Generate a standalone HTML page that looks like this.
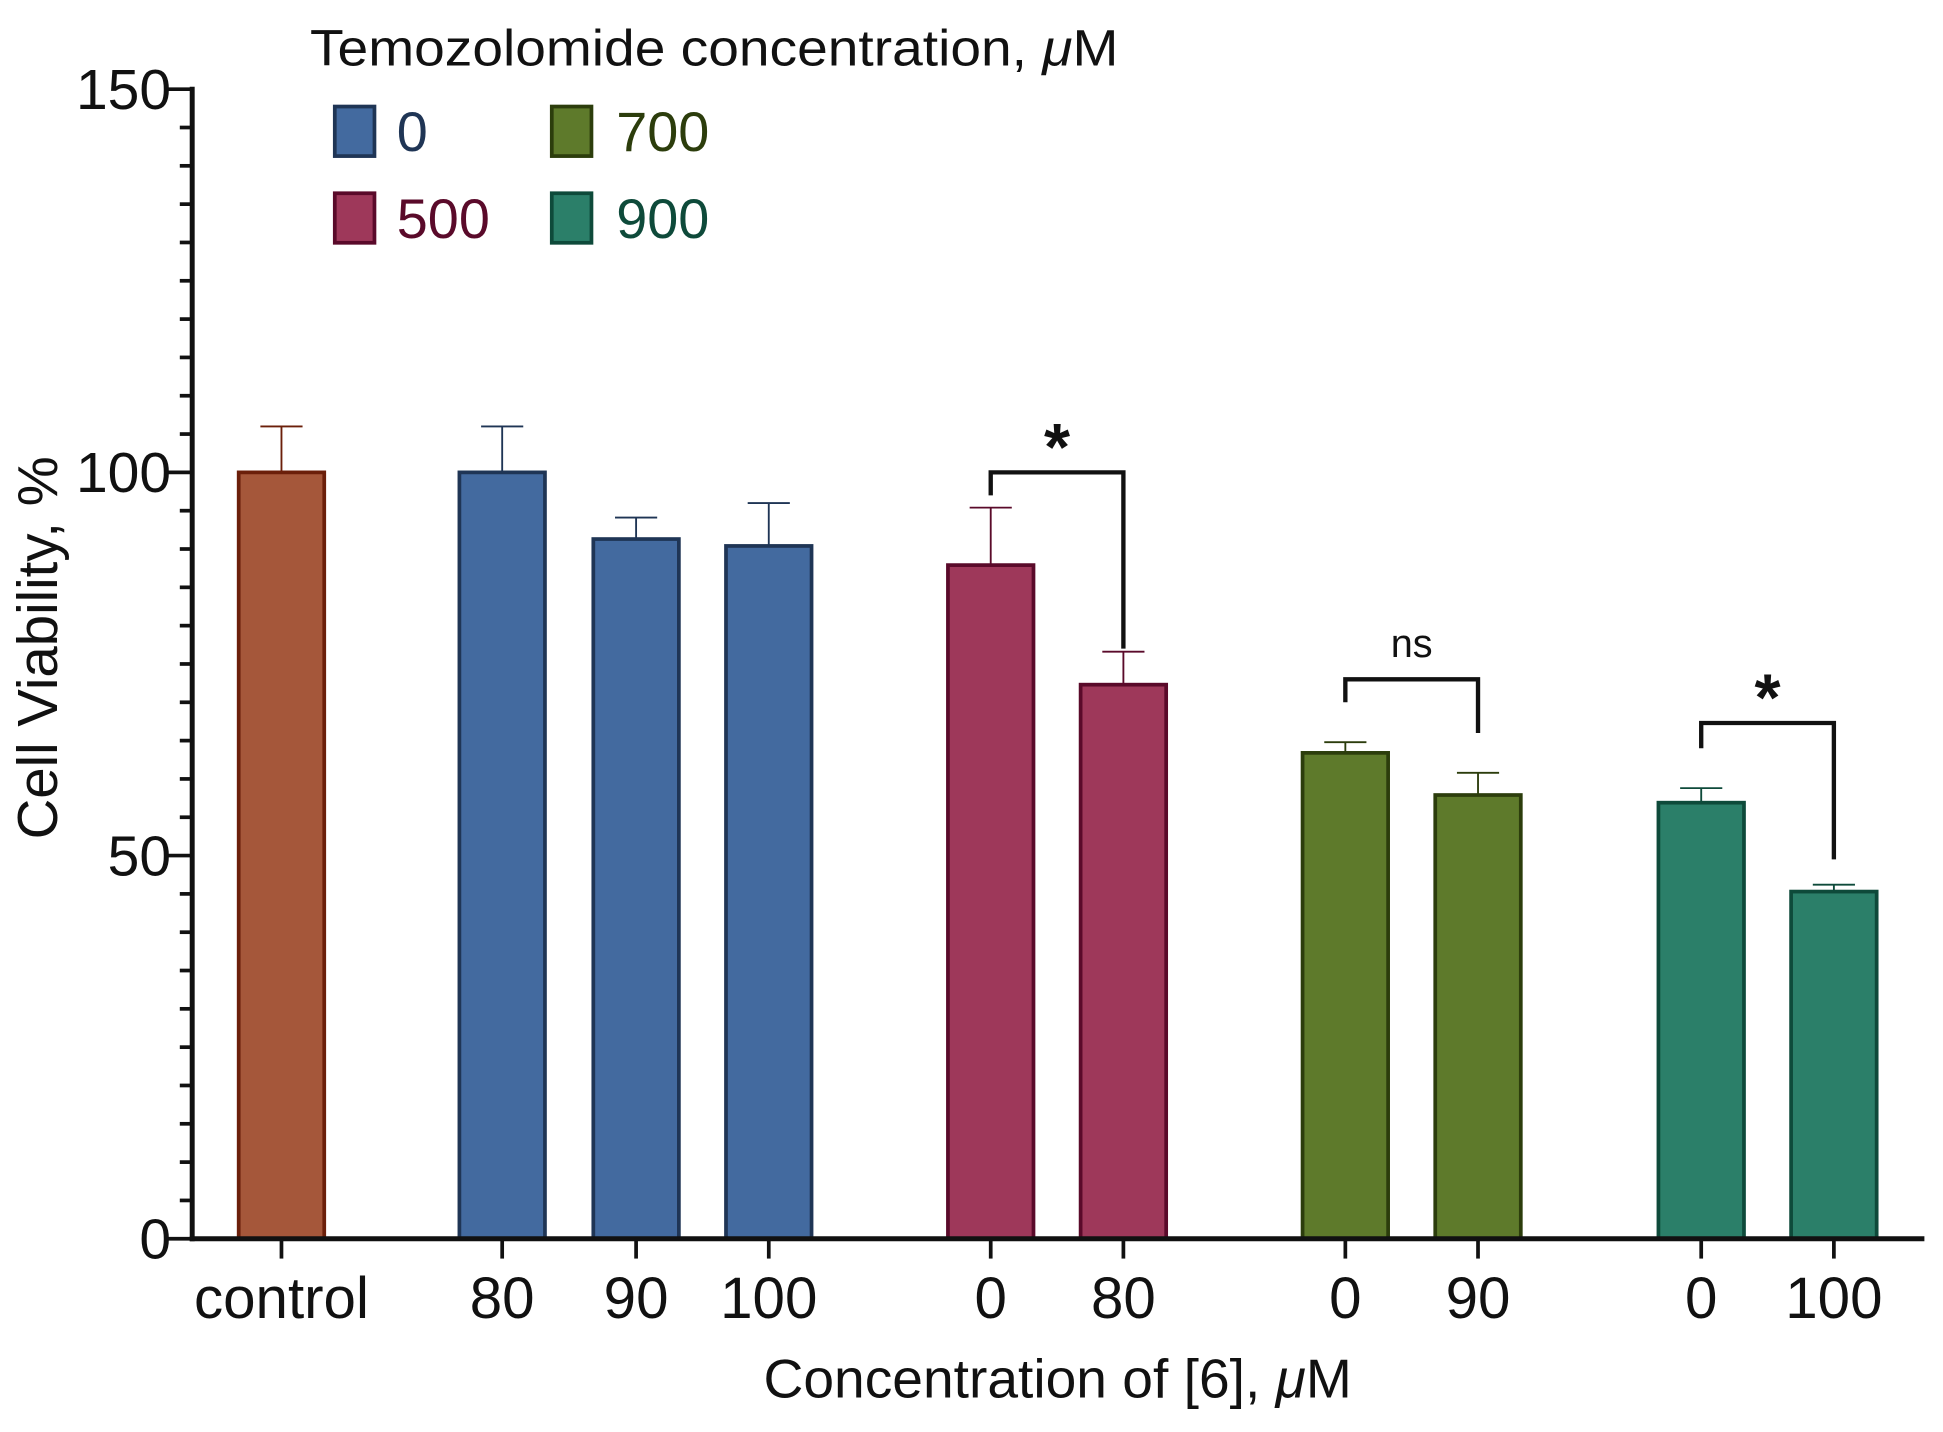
<!DOCTYPE html>
<html><head><meta charset="utf-8"><style>
html,body{margin:0;padding:0;background:#fff;}
svg{display:block;font-family:"Liberation Sans",Arial,sans-serif;}
</style></head><body>
<svg id="chart" width="1943" height="1432" viewBox="0 0 1567 1156" preserveAspectRatio="none" xmlns="http://www.w3.org/2000/svg">
<g id="legend">
<text x="250" y="53" font-size="41" fill="#111" textLength="652" lengthAdjust="spacingAndGlyphs">Temozolomide concentration, <tspan font-style="italic">μ</tspan>M</text>
<rect x="270" y="86" width="32" height="40" fill="#436a9f" stroke="#1f3555" stroke-width="3"/>
<text x="320" y="122" font-size="45" fill="#1f3555">0</text>
<rect x="445" y="86" width="32" height="40" fill="#5e7a2b" stroke="#2c3d0c" stroke-width="3"/>
<text x="497" y="122" font-size="45" fill="#2c3d0c">700</text>
<rect x="270" y="156" width="32" height="40" fill="#9e385a" stroke="#5a0a2a" stroke-width="3"/>
<text x="320" y="192" font-size="45" fill="#5a0a2a">500</text>
<rect x="445" y="156" width="32" height="40" fill="#2b7f69" stroke="#0e4a3a" stroke-width="3"/>
<text x="497" y="192" font-size="45" fill="#0e4a3a">900</text>
</g>
<text x="0" y="0" font-size="45.5" fill="#111" text-anchor="middle" transform="translate(46,523) rotate(-90)">Cell Viability, %</text>
<text x="853" y="1128" font-size="44.5" fill="#111" text-anchor="middle">Concentration of [6], <tspan font-style="italic">μ</tspan>M</text>
</svg>
<script>
const categories = ["control","80","90","100","0","80","0","90","0","100"];
const values = [100, 100, 91.3, 90.4, 87.9, 72.3, 63.4, 57.9, 56.9, 45.3];
const errTops = [106, 106, 94.1, 96, 95.4, 76.6, 64.8, 60.8, 58.8, 46.2];
const groups = ["control","t0","t0","t0","t500","t500","t700","t700","t900","t900"];
const yTicks = [0, 50, 100, 150];
const brackets = [[4,5,"*"],[6,7,"ns"],[8,9,"*"]];
const bracketLevels = [100, 73, 67.3];
const bracketDrops = [[97,77],[70,66],[64,49.5]];

const svg = document.getElementById('chart');
const NS = 'http://www.w3.org/2000/svg';
const colors = {control:["#a5573a","#6b1f0a"],t0:["#436a9f","#1f3555"],t500:["#9e385a","#5a0a2a"],t700:["#5e7a2b","#2c3d0c"],t900:["#2b7f69","#0e4a3a"]};
const centers = [227,405,513,620,799,906,1085,1192,1372,1479];
function yS(v){return 1000 - v*(928/150);}
function xS(i){return centers[i];}
function mk(tag, attrs){const e=document.createElementNS(NS,tag);for(const k in attrs)e.setAttribute(k,attrs[k]);svg.appendChild(e);return e;}
const bw=69;
for(let i=0;i<categories.length;i++){
  const c=colors[groups[i]];
  const x=xS(i);
  const el=mk('line',{x1:x,x2:x,y1:yS(values[i]),y2:yS(errTops[i]),stroke:c[1],'stroke-width':1.5});
  
  
  const cap=mk('line',{x1:x-17,x2:x+17,y1:yS(errTops[i]),y2:yS(errTops[i]),stroke:c[1],'stroke-width':1.5});
  
  
  const r=mk('rect',{x:x-bw/2,y:yS(values[i]),width:bw,height:yS(0)-yS(values[i]),fill:c[0],stroke:c[1],'stroke-width':3});
  
  
  const t=mk('text',{x:x,y:1064,'font-size':47,'text-anchor':'middle',fill:'#111'});
  t.textContent=categories[i];
  
  
  const tk=mk('line',{x1:x,x2:x,y1:1000,y2:1016,stroke:'#111','stroke-width':3});
  
  
}
const ya=mk('line',{x1:155,x2:155,y1:70,y2:1002,stroke:'#111','stroke-width':4});


const xa=mk('line',{x1:153,x2:1552,y1:1000,y2:1000,stroke:'#111','stroke-width':4});


for(let v=0;v<=150;v+=5){
  const major=yTicks.includes(v);
  const m=mk('line',{x1:major?135:145,x2:155,y1:yS(v),y2:yS(v),stroke:'#111','stroke-width':3});
  
  
}
yTicks.forEach(v=>{
  const t=mk('text',{x:138,y:yS(v)+16,'font-size':46,'text-anchor':'end',fill:'#111'});
  t.textContent=v;
  
  
});
brackets.forEach((b,k)=>{
  const x1=xS(b[0]),x2=xS(b[1]),yl=yS(bracketLevels[k]);
  const p=mk('path',{d:`M${x1},${yS(bracketDrops[k][0])} L${x1},${yl} L${x2},${yl} L${x2},${yS(bracketDrops[k][1])}`,fill:'none',stroke:'#111','stroke-width':3.5});
  
  
  const star=b[2]==='*';
  const t=mk('text',{x:(x1+x2)/2,y:star?yl-2:yl-18,'font-size':star?54:32,'font-weight':star?'bold':'normal','text-anchor':'middle',fill:'#111'});
  t.textContent=b[2];
  
  
});
</script>
</body></html>
